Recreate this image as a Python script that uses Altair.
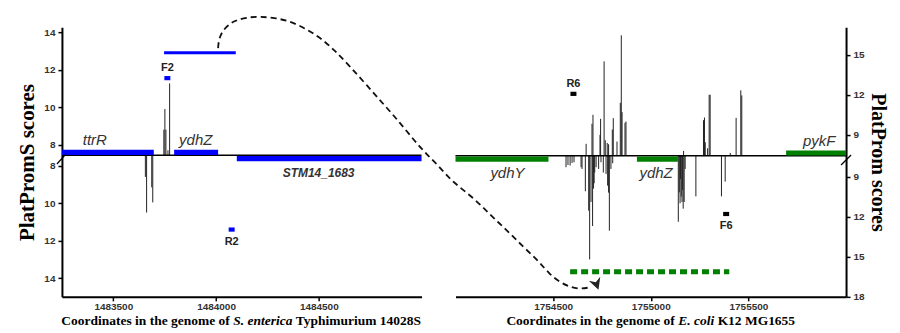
import altair as alt
import pandas as pd

# ---------------- data ----------------
BASE = 7.44  # score at the baseline (axis break)

# Left panel: S. enterica
L_DOMAIN = [1483250, 1485000]
L_XTICKS = [1483500, 1484000, 1484500]
L_YTICKS = [8, 10, 12, 14]
L_YMAX_UP = 14.27
L_YMAX_DN = 15.0
L_XTITLE = [("Coordinates in the genome of ", "normal"), ("S. enterica", "italic"),
            (" Typhimurium 14028S", "normal")]

l_up_x = [1483746, 1483751, 1483756, 1483766, 1483774]
l_up_v = [8.8, 9.9, 8.8, 7.7, 11.27]
l_dn_x = [1483656, 1483662, 1483687, 1483692]
l_dn_v = [8.6, 10.5, 9.16, 9.96]

l_gene_name = ["ttrR", "ydhZ", "STM14_1683"]
l_gene_start = [1483250, 1483796, 1484101]
l_gene_end = [1483697, 1484010, 1485000]
l_gene_strand = [1, 1, -1]
l_gene_lab_x = [1483410, 1483901, 1484499]

l_region = [1483747, 1484096, 12.9]  # start, end, score (upper)

l_mark_name = ["F2", "R2"]
l_mark_x = [1483763, 1484076]
l_mark_v = [11.55, 11.41]
l_mark_strand = [1, -1]

# Right panel: E. coli
R_DOMAIN = [1754000, 1756000]
R_XTICKS = [1754500, 1755000, 1755500]
R_YTICKS_UP = [9, 12, 15]
R_YTICKS_DN = [9, 12, 15, 18]
R_YMAX_UP = 17.06
R_YMAX_DN = 18.0
R_XTITLE = [("Coordinates in the genome of ", "normal"), ("E. coli", "italic"),
            (" K12 MG1655", "normal")]

r_up_x = [1754669, 1754699, 1754704, 1754740, 1754743, 1754761, 1754767, 1754777,
          1754784, 1754803, 1754808, 1754827, 1754844, 1754849, 1754853, 1754868,
          1754873, 1755168, 1755270, 1755275, 1755279, 1755291, 1755299, 1755304,
          1755407, 1755437, 1755461, 1755466]
r_up_v = [8.33, 9.83, 10.5, 9.0, 10.2, 14.5, 8.6, 8.4,
          8.3, 9.4, 10.25, 8.5, 11.4, 16.45, 10.7, 9.9,
          10.0, 7.8, 10.1, 10.3, 8.45, 8.0, 12.0, 12.0,
          7.65, 10.27, 12.33, 11.95]
r_dn_x = [1754566, 1754576, 1754587, 1754597, 1754607, 1754643, 1754648, 1754665,
          1754682, 1754687, 1754694, 1754702, 1754707, 1754710, 1754713, 1754720,
          1754733, 1754745, 1754757, 1754771, 1754779, 1754784, 1754788, 1754796,
          1754805, 1755141, 1755146, 1755150, 1755152, 1755156, 1755160, 1755163,
          1755166, 1755171, 1755176, 1755231, 1755362, 1755381]
r_dn_v = [8.3, 8.13, 8.17, 7.98, 7.93, 8.3, 8.43, 10.1,
          11.55, 15.2, 10.9, 12.7, 9.9, 9.5, 8.7, 8.3,
          8.43, 7.93, 8.7, 8.8, 9.68, 10.2, 13.05, 8.43,
          8.0, 12.38, 10.18, 11.0, 9.18, 10.5, 10.9, 10.0,
          11.4, 10.9, 8.43, 10.48, 10.48, 9.38]

r_gene_name = ["ydhY", "ydhZ", "pykF"]
r_gene_start = [1754000, 1754929, 1755693]
r_gene_end = [1754476, 1755139, 1756000]
r_gene_strand = [-1, -1, 1]
r_gene_lab_x = [1754266, 1755027, 1755862]

r_region = [1754587, 1755402, 16.13]  # start, end, score (lower)

r_mark_name = ["R6", "F6"]
r_mark_x = [1754604, 1755386]
r_mark_v = [12.07, 11.8]
r_mark_strand = [1, -1]

# connector curve (left-panel coordinates: genome position, signed score offset)
curve_x = [1484010, 1484013, 1484028, 1484057, 1484096, 1484154, 1484213, 1484285,
           1484358, 1484431, 1484504, 1484577, 1484650, 1484733, 1484815, 1484893,
           1484966, 1485024, 1485088, 1485151, 1485248, 1485331, 1485413, 1485496,
           1485574, 1485622, 1485671, 1485719, 1485768, 1485817]
curve_t = [5.71, 6.14, 6.56, 6.94, 7.20, 7.36, 7.39, 7.33,
           7.15, 6.78, 6.30, 5.60, 4.75, 3.74, 2.72, 1.76,
           0.76, 0.06, -0.63, -1.43, -2.23, -3.14, -3.99, -4.90,
           -5.70, -6.34, -6.76, -7.03, -7.14, -7.06]
arrow_x = [1485851]
arrow_t = [-6.87]

# ---------------- styling ----------------
W_L, W_R, H = 360, 391, 270
BLUE = "#0000ff"
GREEN = "#008000"
SPIKE = "#222222"
LABEL_FONT = "Liberation Sans"
SERIF = "Liberation Serif"
XTITLE_SIZE = 13.5
XTITLE_OFFSET = 24

# Times (Liberation Serif) bold / bold-italic advance widths, per 1000 em
W_BOLD = {" ": 250, "C": 722, "o": 500, "r": 444, "d": 556, "i": 278, "n": 556, "a": 500,
          "t": 333, "e": 444, "s": 389, "h": 556, "g": 500, "m": 833, "f": 333, "T": 667,
          "y": 500, "p": 556, "u": 556, "S": 556, "K": 778, "M": 944, "G": 778, "E": 667,
          ".": 250, "l": 278, "c": 444}
W_BI = {" ": 250, "S": 556, ".": 250, "e": 444, "n": 556, "t": 278, "r": 389, "i": 278,
        "c": 444, "a": 500, "E": 667, "o": 500, "l": 278}


def text_width(s, style, size):
    table = W_BI if style == "italic" else W_BOLD
    return sum(table.get(ch, 500) for ch in s) * size / 1000.0


def signed(v, s):
    return s * (v - BASE)


def label_expr():
    return (f"datum.value > 0 ? format(round(datum.value + {BASE}), 'd') : "
            f"format(round({BASE} - datum.value), 'd')")


def make_axes(domain, xticks, ytick_up, ytick_dn, ymax_up, ymax_dn, ytitle, yorient, ytsize, ytpad):
    ydom = [signed(ymax_dn, -1), signed(ymax_up, 1)]
    yvals = [signed(v, 1) for v in ytick_up] + [signed(v, -1) for v in ytick_dn]
    xaxis = alt.Axis(values=xticks, format="d", title=None, grid=False,
                     domainColor="black", domainWidth=2, tickColor="black", tickWidth=1.5,
                     tickSize=4, labelFont=LABEL_FONT, labelFontWeight="bold", labelFontSize=10,
                     labelColor="#333", labelPadding=1)
    yaxis = alt.Axis(values=yvals, labelExpr=label_expr(), title=ytitle, orient=yorient, grid=False,
                     domainColor="black", domainWidth=2, tickColor="black", tickWidth=1.5,
                     tickSize=4, labelFont=LABEL_FONT, labelFontWeight="bold", labelFontSize=10,
                     labelColor="#333", labelPadding=3, titleFont=SERIF, titleFontSize=ytsize,
                     titleFontWeight="bold", titleColor="black", titlePadding=ytpad)
    xs = alt.Scale(domain=domain, nice=False, zero=False)
    ys = alt.Scale(domain=ydom, nice=False, zero=False)

    def X(field):
        return alt.X(field, type="quantitative", scale=xs, axis=xaxis)

    def Y(field):
        return alt.Y(field, type="quantitative", scale=ys, axis=yaxis)
    return X, Y, H / (ydom[1] - ydom[0])


def xtitle_layers(parts, width):
    total = sum(text_width(s, st, XTITLE_SIZE) for s, st in parts)
    x0 = width / 2 - total / 2
    layers = []
    dummy = pd.DataFrame({"a": [0]})
    for s, st in parts:
        stripped = s.lstrip(" ")
        lead = text_width(s[:len(s) - len(stripped)], st, XTITLE_SIZE)
        layers.append(alt.Chart(dummy).mark_text(
            text=stripped, font=SERIF, fontWeight="bold", fontStyle=st, fontSize=XTITLE_SIZE,
            color="black", align="left", baseline="middle").encode(
            x=alt.value(x0 + lead), y=alt.value(H + XTITLE_OFFSET)))
        x0 += text_width(s, st, XTITLE_SIZE)
    return layers


def panel(domain, xticks, xtitle, ytick_up, ytick_dn, ymax_up, ymax_dn, ytitle, yorient, ytsize, ytpad,
          up_x, up_v, dn_x, dn_v, g_name, g_start, g_end, g_strand, g_lab, gcolor,
          m_name, m_x, m_v, m_strand, mcolor, width):
    X, Y, ppu = make_axes(domain, xticks, ytick_up, ytick_dn, ymax_up, ymax_dn, ytitle, yorient,
                          ytsize, ytpad)
    thick = 5.3 / ppu
    gap = 0.8 / ppu

    spikes = pd.DataFrame({
        "x": up_x + dn_x,
        "t": [signed(v, 1) for v in up_v] + [signed(v, -1) for v in dn_v],
        "zero": 0.0,
    })
    genes = pd.DataFrame({
        "name": g_name, "start": g_start, "end": g_end,
        "y0": [gap * 0.3 if s > 0 else -gap for s in g_strand],
        "y1": [thick if s > 0 else -thick - gap for s in g_strand],
        "lx": g_lab,
        "ly": [0.0] * len(g_name),
        "strand": g_strand,
    })
    marks = pd.DataFrame({
        "name": m_name, "x": m_x,
        "t": [signed(v, s) for v, s in zip(m_v, m_strand)],
        "strand": m_strand,
    })

    base = alt.Chart(pd.DataFrame({"zero": [0.0]}))
    baseline = base.mark_rule(color="black", strokeWidth=1.5).encode(
        y=Y("zero"), x=alt.value(0), x2=alt.value(width))
    spike_layer = alt.Chart(spikes).mark_rule(color=SPIKE, strokeWidth=1).encode(
        x=X("x"), y=Y("t"), y2="zero")
    gene_layer = alt.Chart(genes).mark_rect(color=gcolor).encode(
        x=X("start"), x2="end", y=Y("y0"), y2="y1")
    up_genes = genes[genes.strand > 0]
    dn_genes = genes[genes.strand < 0]
    up_lab = alt.Chart(up_genes).mark_text(
        font=LABEL_FONT, fontStyle="italic", fontSize=15, color="#333", dy=-15,
        baseline="middle").encode(x=X("lx"), y=Y("ly"), text="name")
    dn_lab = alt.Chart(dn_genes[dn_genes.name.str.len() < 6]).mark_text(
        font=LABEL_FONT, fontStyle="italic", fontSize=15, color="#333", dy=17,
        baseline="middle").encode(x=X("lx"), y=Y("ly"), text="name")
    dn_lab_long = alt.Chart(dn_genes[dn_genes.name.str.len() >= 6]).mark_text(
        font=LABEL_FONT, fontStyle="italic", fontWeight="bold", fontSize=12, color="#333", dy=18,
        baseline="middle").encode(x=X("lx"), y=Y("ly"), text="name")
    sq = alt.Chart(marks).mark_point(
        shape="M -1 -0.7 L 1 -0.7 L 1 0.7 L -1 0.7 Z", filled=True, size=36, opacity=1,
        strokeWidth=0, color=mcolor).encode(x=X("x"), y=Y("t"))
    mup = alt.Chart(marks[marks.strand > 0]).mark_text(
        font=LABEL_FONT, fontWeight="bold", fontSize=11, color="#222", dy=-10).encode(
        x=X("x"), y=Y("t"), text="name")
    mdn = alt.Chart(marks[marks.strand < 0]).mark_text(
        font=LABEL_FONT, fontWeight="bold", fontSize=11, color="#222", dy=12).encode(
        x=X("x"), y=Y("t"), text="name")
    layers = [spike_layer, baseline, gene_layer, up_lab, dn_lab, dn_lab_long, sq, mup, mdn]
    layers += xtitle_layers(xtitle, width)
    return layers, X, Y


left_layers, LX, LY = panel(
    L_DOMAIN, L_XTICKS, L_XTITLE, L_YTICKS, L_YTICKS, L_YMAX_UP, L_YMAX_DN,
    "PlatPromS scores", "left", 21, 6,
    l_up_x, l_up_v, l_dn_x, l_dn_v, l_gene_name, l_gene_start, l_gene_end, l_gene_strand,
    l_gene_lab_x, BLUE, l_mark_name, l_mark_x, l_mark_v, l_mark_strand, BLUE, W_L)

right_layers, RX, RY = panel(
    R_DOMAIN, R_XTICKS, R_XTITLE, R_YTICKS_UP, R_YTICKS_DN, R_YMAX_UP, R_YMAX_DN,
    "PlatProm scores", "right", 20, 3,
    r_up_x, r_up_v, r_dn_x, r_dn_v, r_gene_name, r_gene_start, r_gene_end, r_gene_strand,
    r_gene_lab_x, GREEN, r_mark_name, r_mark_x, r_mark_v, r_mark_strand, "black", W_R)

# region bars
l_reg = alt.Chart(pd.DataFrame({"s": [l_region[0]], "e": [l_region[1]],
                                "t": [signed(l_region[2], 1)]})).mark_rule(
    color=BLUE, strokeWidth=3).encode(x=LX("s"), x2="e", y=LY("t"))
r_reg = alt.Chart(pd.DataFrame({"s": [r_region[0]], "e": [r_region[1]],
                                "t": [signed(r_region[2], -1)]})).mark_rule(
    color=GREEN, strokeWidth=5, strokeDash=[7, 4]).encode(x=RX("s"), x2="e", y=RY("t"))

# connector curve
curve = alt.Chart(pd.DataFrame({"x": curve_x, "t": curve_t, "i": list(range(len(curve_x)))})).mark_line(
    color="#111", strokeWidth=1.8, strokeDash=[6, 4], interpolate="basis", clip=False).encode(
    x=LX("x"), y=LY("t"), order="i")
arrow = alt.Chart(pd.DataFrame({"x": arrow_x, "t": arrow_t})).mark_point(
    shape="M -1 -0.9 L 0 -0.3 L 1 -0.9 L 0 1 Z", filled=True, size=150, color="#222",
    opacity=1, angle=340, clip=False).encode(x=LX("x"), y=LY("t"))

# axis-break slashes
dummy = pd.DataFrame({"a": [0]})
l_slash = alt.Chart(dummy).mark_rule(color="black", strokeWidth=1.2).encode(
    x=alt.value(-5), x2=alt.value(4), y=alt.value(H - 137 + 4), y2=alt.value(H - 137 - 6))
r_slash = alt.Chart(dummy).mark_rule(color="black", strokeWidth=1.2).encode(
    x=alt.value(W_R - 5), x2=alt.value(W_R + 5), y=alt.value(H - 137 + 5), y2=alt.value(H - 137 - 5))

left = alt.layer(*left_layers, l_reg, l_slash, curve, arrow).properties(width=W_L, height=H)
right = alt.layer(*right_layers, r_reg, r_slash).properties(width=W_R, height=H)

chart = alt.hconcat(left, right, spacing=34, bounds="flush").configure_view(
    stroke=None).properties(padding={"left": 8, "top": 5, "right": 4, "bottom": 0})

chart.save("out.html", embed_options={"renderer": "svg", "actions": False})
